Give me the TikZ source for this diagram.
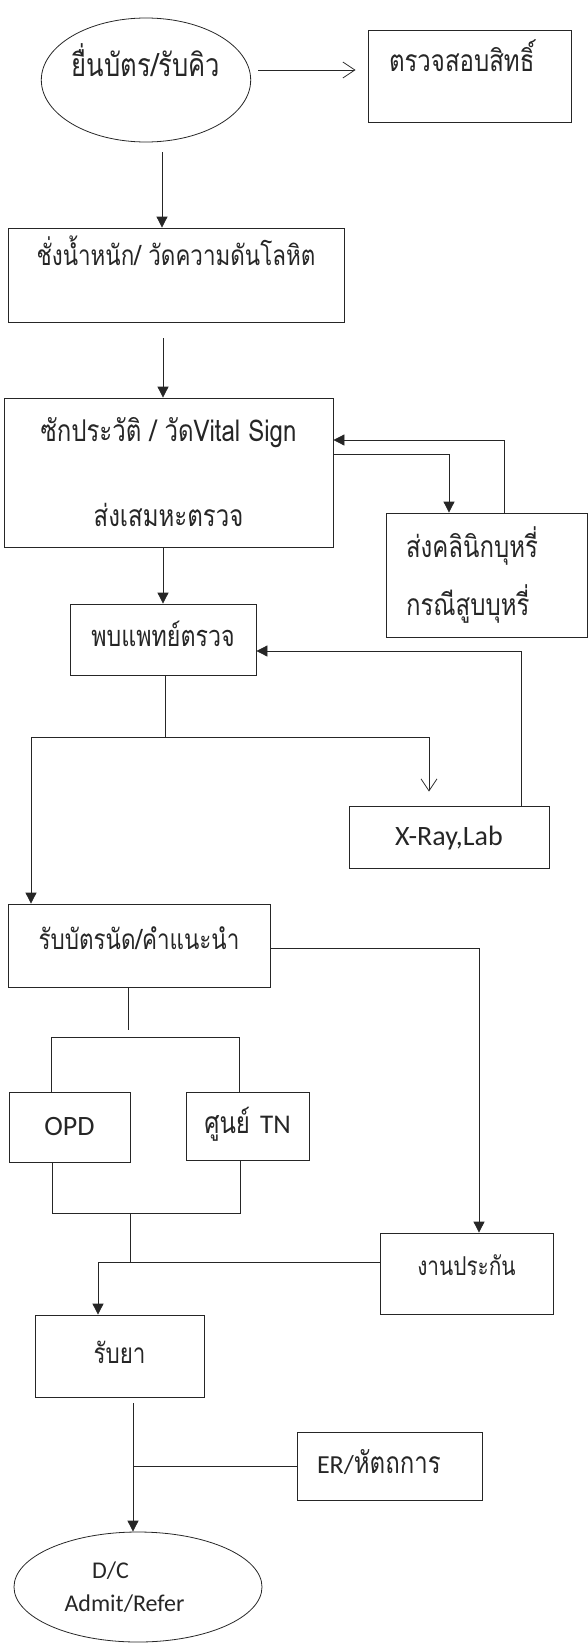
\documentclass[tikz,border=0pt]{standalone}
\usepackage{fontspec}
\usepackage{graphicx}
\setmainfont{Loma}[Script=Thai]
\newfontfamily\latinfont{Carlito}
\newcommand{\narrow}[1]{\scalebox{0.8}[1]{#1}}
\usetikzlibrary{shapes.geometric,arrows.meta,positioning}

\begin{document}
\begin{tikzpicture}[x=1pt,y=-1pt,line width=0.8pt,color=black!85,
		box/.style={draw,rectangle,inner sep=0pt,font=\fontsize{30}{34}\selectfont},
		oval/.style={draw,ellipse,inner sep=0pt,font=\fontsize{30}{34}\selectfont},
		fsize/.style={font=\fontsize{#1}{34}\selectfont},
		single/.style={text height=14pt,text depth=#1},single/.default=0pt,
		latin/.style={font=\latinfont\fontsize{28}{32}\selectfont,text height=17pt,text depth=0pt},
		flow/.style={-{Triangle[length=11pt,width=11pt]}},
		flowopen/.style={-{Straight Barb[length=12pt,width=16pt]}}]
		\useasboundingbox (0,0) rectangle (588,1643);
		\node [oval,minimum width=208pt,minimum height=124pt,single=20pt,fsize=32] (queue) at (146,80) {\narrow{ยื่นบัตร/รับคิว}};
		\node [box,minimum width=203pt,minimum height=92pt,single=22pt,text width=161pt,align=left] (rights) at (469.5,76) {\narrow{ตรวจสอบสิทธิ์}};
		\node [box,minimum width=336pt,minimum height=94pt,single=34pt,fsize=28] (weigh) at (176,275) {\narrow{ชั่งน้ำหนัก/ วัดความดันโลหิต}};
		\node [box,minimum width=329pt,minimum height=149pt,align=center] (history) at (168.5,472.5) {\narrow{ซักประวัติ / วัดVital Sign}\\[51pt]\narrow{ส่งเสมหะตรวจ}};
		\node [box,minimum width=201pt,minimum height=124pt,text width=161pt,align=left] (smoke) at (486.5,575) {\narrow{ส่งคลินิกบุหรี่}\\[18pt]\narrow{กรณีสูบบุหรี่}};
		\node [box,minimum width=186pt,minimum height=71pt,single,fsize=29] (doctor) at (163,639.5) {\narrow{พบแพทย์ตรวจ}};
		\node [box,minimum width=200pt,minimum height=62pt,latin] (xray) at (449,837) {X-Ray,Lab};
		\node [box,minimum width=262pt,minimum height=83pt,single=7pt,fsize=28] (appt) at (139,945.5) {\narrow{รับบัตรนัด/คำแนะนำ}};
		\node [box,minimum width=121pt,minimum height=70pt,latin] (opd) at (69.5,1127) {OPD};
		\node [box,minimum width=123pt,minimum height=68pt,single] (tn) at (247.5,1126) {\narrow{ศูนย์} {\latinfont\fontsize{27}{32}\selectfont TN}};
		\node [box,minimum width=173pt,minimum height=81pt,single=11pt,fsize=26] (insure) at (466.5,1273.5) {\narrow{งานประกัน}};
		\node [box,minimum width=169pt,minimum height=82pt,single,fsize=28] (drug) at (119.5,1356) {\narrow{รับยา}};
		\node [box,minimum width=185pt,minimum height=68pt,single,text width=145pt,align=left] (er) at (389.5,1466) {{\latinfont\fontsize{26}{31}\selectfont ER/}\narrow{หัตถการ}};
		\node [oval,minimum width=248pt,minimum height=110pt,align=center,font=\latinfont\fontsize{24}{29}\selectfont] (dc) at (138,1587) {D/C\hspace*{55pt}\\[4pt]Admit/Refer\hspace*{27pt}};

		\draw [flowopen,shorten <=7pt,shorten >=12pt] ([yshift=10pt]queue.east) -- ([yshift=10pt]queue.east -| rights.west);
		\draw [flow,shorten <=10pt] ([xshift=16pt]queue.south) -- ([xshift=16pt]queue.south |- weigh.north);
		\draw [flow,shorten <=16pt] ([xshift=-13pt]weigh.south) -- ([xshift=-13pt]weigh.south |- history.north);
		\draw [flow] (doctor.north |- history.south) -- (doctor.north);
		\draw [flow] ([yshift=18.5pt]history.east) -| ([xshift=-37.5pt]smoke.north);
		\draw [flow] ([xshift=17.5pt]smoke.north) |- ([yshift=32.5pt]history.east);
		\draw [flow] ([xshift=72pt]xray.north) |- ([yshift=-11.5pt]doctor.east);
		\draw ([xshift=2pt]doctor.south) -- ++(0,62) coordinate (split);
		\draw [flowopen,shorten >=14pt] (split) -| ([xshift=-20pt]xray.north);
		\draw [flow] (split) -| ([xshift=-108pt]appt.north);
		\draw [flow] ([yshift=-2.5pt]appt.east) -| ([xshift=12.5pt]insure.north);
		\draw ([xshift=-11pt]appt.south) -- ++(0,43);
		\draw ([xshift=-18.5pt]opd.north) -- ++(0,-54) -| ([xshift=-8.5pt]tn.north);
		\draw ([xshift=-17.5pt]opd.south) -- ++(0,51) coordinate (opdjoin) -| ([xshift=-7.5pt]tn.south);
		\draw ([xshift=78pt]opdjoin) -- ++(0,50);
		\draw [flow] ([yshift=11.5pt]insure.west) -| ([xshift=-21.5pt]drug.north);
		\coordinate (trunk) at ([xshift=13.5pt]drug.south);
		\draw [flow,shorten <=6pt] (trunk) -- (trunk |- dc.north);
		\draw (er.west) -- (er.west -| trunk);
	\end{tikzpicture}
\end{document}
